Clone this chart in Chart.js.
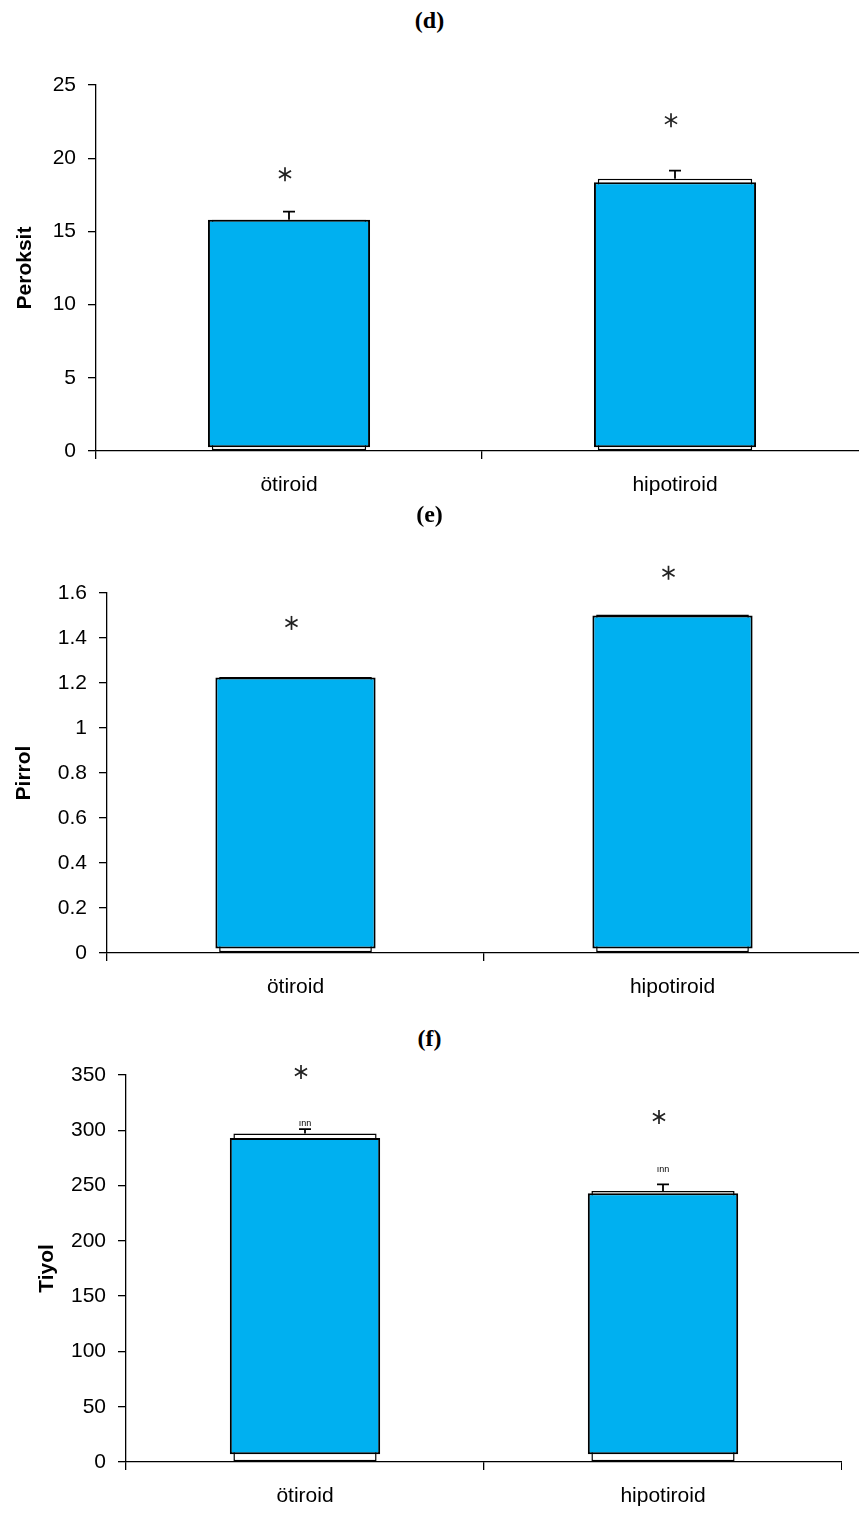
<!DOCTYPE html>
<html>
<head>
<meta charset="utf-8">
<script src="https://cdn.jsdelivr.net/npm/chart.js@4/dist/chart.umd.min.js"></script>
<style>
  html, body { margin: 0; padding: 0; background: #fff; overflow: hidden; width: 859px; height: 1517px; }
  canvas { position: absolute; left: 0; }
  .ptitle { position: absolute; left: 0; width: 859px; text-align: center; font: bold 24px "Liberation Serif", serif; line-height: 28px; }
</style>
</head>
<body>
<div class="ptitle" style="top:6px">(d)</div>
<canvas id="chartD" width="868" height="505" style="top:0px"></canvas>
<div class="ptitle" style="top:500px">(e)</div>
<canvas id="chartE" width="861" height="460" style="top:540px"></canvas>
<div class="ptitle" style="top:1024px">(f)</div>
<canvas id="chartF" width="842" height="467" style="top:1050px"></canvas>
<script>
"use strict";

var groups = ["ötiroid", "hipotiroid"];

// (d) Peroksit
var peroksitBack = [15.8, 18.6];
var peroksitFront = [[0.25, 15.8], [0.25, 18.35]];
var peroksitSem = [0.55, 0.55];
var peroksitStar = [18.9, 22.6];

// (e) Pirrol
var pirrolBack = [1.227, 1.505];
var pirrolFront = [[0.02, 1.225], [0.02, 1.5]];
var pirrolSem = [null, null];
var pirrolStar = [1.467, 1.69];

// (f) Tiyol
var tiyolBack = [297, 245];
var tiyolFront = [[7, 293], [7, 243]];
var tiyolSem = [4, 6];
var tiyolMark = [304, 262];
var tiyolStar = [352.7, 312];

var BLUE = "#00B0F0";
var tickFont = { family: "Liberation Sans", size: 21 };

function drawStar(ctx, x, y) {
  var r = 7;
  ctx.save();
  ctx.strokeStyle = "#222";
  ctx.fillStyle = "#222";
  ctx.lineWidth = 1.7;
  for (var k = 0; k < 3; k++) {
    var a = Math.PI / 2 + k * Math.PI / 3;
    ctx.beginPath();
    ctx.moveTo(x - r * Math.cos(a), y - r * Math.sin(a));
    ctx.lineTo(x + r * Math.cos(a), y + r * Math.sin(a));
    ctx.stroke();
  }
  ctx.restore();
}

var extrasPlugin = {
  id: "extras",
  afterDatasetsDraw: function(chart, args, opts) {
    var ctx = chart.ctx;
    var yScale = chart.scales.y;
    var backMeta = chart.getDatasetMeta(1);
    ctx.save();
    ctx.strokeStyle = "#000";
    ctx.lineWidth = 1.8;
    opts.back.forEach(function(v, i) {
      var cx = backMeta.data[i].x;
      if (opts.sem[i] != null) {
        var y0 = yScale.getPixelForValue(v);
        var y1 = yScale.getPixelForValue(v + opts.sem[i]);
        ctx.beginPath();
        ctx.moveTo(cx, y0);
        ctx.lineTo(cx, y1);
        ctx.moveTo(cx - 6, y1);
        ctx.lineTo(cx + 6, y1);
        ctx.stroke();
      }
      if (opts.mark) {
        ctx.fillStyle = "#000";
        ctx.font = "9px Liberation Sans";
        ctx.textAlign = "center";
        ctx.textBaseline = "alphabetic";
        ctx.fillText("ınn", cx, yScale.getPixelForValue(opts.mark[i]));
      }
      drawStar(ctx, cx - 4, yScale.getPixelForValue(opts.star[i]));
    });
    ctx.restore();
  }
};

function makePanel(id, o) {
  return new Chart(document.getElementById(id), {
    type: "bar",
    plugins: [extrasPlugin],
    data: {
      labels: groups,
      datasets: [{
        data: o.front,
        backgroundColor: BLUE,
        borderColor: "#000",
        borderWidth: 2,
        borderSkipped: false,
        grouped: false,
        barPercentage: o.bw,
        categoryPercentage: 1,
        order: 1
      }, {
        data: o.back,
        backgroundColor: "#fff",
        borderColor: "#000",
        borderWidth: 1.5,
        borderSkipped: false,
        grouped: false,
        barPercentage: o.bw - 0.02,
        categoryPercentage: 1,
        order: 2
      }]
    },
    options: {
      responsive: false,
      animation: false,
      events: [],
      layout: { padding: { top: o.top, left: 0, right: 0, bottom: 0 } },
      plugins: {
        legend: { display: false },
        tooltip: { enabled: false },
        extras: { back: o.back, sem: o.sem, star: o.star, mark: o.mark }
      },
      scales: {
        x: {
          afterFit: function(s) { s.height = o.xh; },
          grid: { display: true, drawOnChartArea: false, drawTicks: true, tickLength: 8, color: "#000", lineWidth: 1.3 },
          border: { display: true, color: "#000", width: 1.3 },
          ticks: { color: "#000", font: tickFont, padding: 14, maxRotation: 0 }
        },
        y: {
          min: 0,
          max: o.max,
          afterFit: function(s) { s.width = o.yw; },
          grid: { display: true, drawOnChartArea: false, drawTicks: true, tickLength: 8, color: "#000", lineWidth: 1.3 },
          border: { display: true, color: "#000", width: 1.3 },
          ticks: {
            color: "#000", font: tickFont, padding: o.tp, stepSize: o.step,
            callback: function(v) { return String(Number(v.toFixed(2))); }
          },
          title: {
            display: true,
            text: o.title,
            color: "#000",
            font: { family: "Liberation Sans", size: 21, weight: "bold" },
            padding: { top: o.titlePad, bottom: 0 }
          }
        }
      }
    }
  });
}

makePanel("chartD", {
  front: peroksitFront, back: peroksitBack, sem: peroksitSem, star: peroksitStar,
  title: "Peroksit", max: 25, step: 5, top: 85, xh: 54, yw: 96, tp: 12, titlePad: 13, bw: 0.42
});

makePanel("chartE", {
  front: pirrolFront, back: pirrolBack, sem: pirrolSem, star: pirrolStar,
  title: "Pirrol", max: 1.6, step: 0.2, top: 53, xh: 47, yw: 107, tp: 12, titlePad: 12, bw: 0.425
});

makePanel("chartF", {
  front: tiyolFront, back: tiyolBack, sem: tiyolSem, star: tiyolStar, mark: tiyolMark,
  title: "Tiyol", max: 350, step: 50, top: 25, xh: 55, yw: 126, tp: 12, titlePad: 35, bw: 0.42
});
</script>
</body>
</html>
